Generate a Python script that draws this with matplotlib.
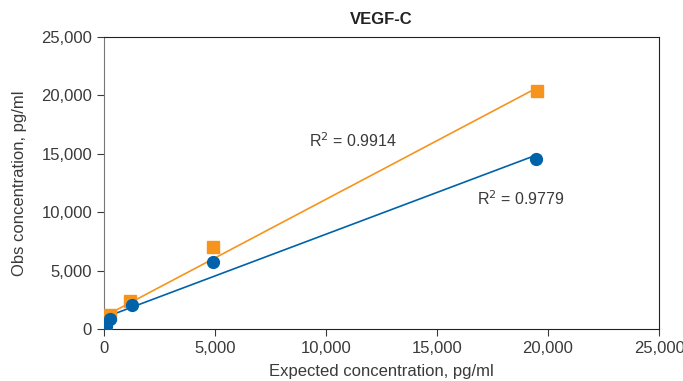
import numpy as np
import matplotlib.pyplot as plt
from matplotlib.ticker import FuncFormatter

plt.rcParams['font.family'] = ['Liberation Sans', 'DejaVu Sans']

# expected concentration, pg/ml
exp_orange = [40, 300, 1170, 4910, 19500]
obs_orange = [340, 1200, 2400, 7000, 20380]
exp_blue = [120, 300, 1260, 4910, 19450]
obs_blue = [260, 830, 2050, 5740, 14550]
r2_orange = "0.9914"
r2_blue = "0.9779"

ORANGE = "#F7941D"
BLUE = "#0063A9"
TXT = "#3a3a3a"

fig = plt.figure(figsize=(6.83, 3.81), dpi=100)
ax = fig.add_axes([0.152, 0.1365, 0.813, 0.7665])

# linear trendlines
for xs, ys, c in [(exp_orange, obs_orange, ORANGE), (exp_blue, obs_blue, BLUE)]:
    k, b = np.polyfit(xs, ys, 1)
    xx = np.array([0, max(xs)])
    ax.plot(xx, k * xx + b, color=c, lw=1.2, zorder=2)

ax.plot(exp_orange, obs_orange, "s", color=ORANGE, ms=8.5, zorder=3)
ax.plot(exp_blue, obs_blue, "o", color=BLUE, ms=8.5, zorder=4)

ax.text(9250, 15550, f"R$^2$ = {r2_orange}", fontsize=11.5, color=TXT)
ax.text(16800, 10600, f"R$^2$ = {r2_blue}", fontsize=11.5, color=TXT)

ax.set_xlim(0, 25000)
ax.set_ylim(0, 25000)
ax.set_xticks(np.arange(0, 25001, 5000))
ax.set_yticks(np.arange(0, 25001, 5000))
fmt = FuncFormatter(lambda v, p: f"{int(v):,}")
ax.xaxis.set_major_formatter(fmt)
ax.yaxis.set_major_formatter(fmt)
ax.tick_params(labelsize=12, colors=TXT, length=5)
for s in ["top", "right", "bottom"]:
    ax.spines[s].set_color("#222222")
ax.spines["left"].set_color("#777777")

ax.set_title("VEGF-C", fontsize=12, fontweight="bold", pad=9, color="#222222")
ax.set_xlabel("Expected concentration, pg/ml", fontsize=12, color=TXT, labelpad=6)
ax.set_ylabel("Obs concentration, pg/ml", fontsize=12, color=TXT, labelpad=10)

fig.savefig("out.png", dpi=100)
